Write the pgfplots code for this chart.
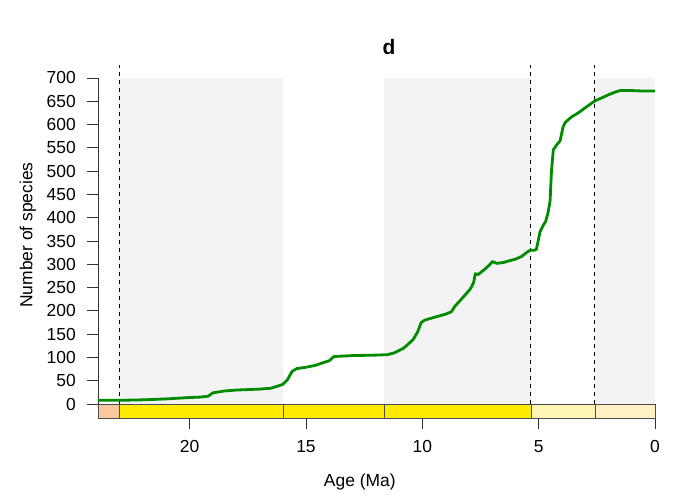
\documentclass[border=0pt]{standalone}
\usepackage{pgfplots}
\pgfplotsset{compat=1.18}
\usepackage{fontspec}
\setmainfont{Liberation Sans}
\definecolor{bandgray}{HTML}{F3F3F3}
\definecolor{oligo}{HTML}{FAC8A0}
\definecolor{mio}{HTML}{FFEB00}
\definecolor{plio}{HTML}{FFF5B5}
\definecolor{pleist}{HTML}{FFF0C6}
\definecolor{curvegreen}{HTML}{008B00}
\begin{document}
\begin{tikzpicture}[x=1bp,y=1bp]
\path[use as bounding box] (-98bp,-79bp) rectangle (579bp,418bp);
\begin{axis}[
  at={(0,0)}, anchor=south west,
  scale only axis,
  width=557bp, height=340bp,
  xmin=0, xmax=23.94, x dir=reverse,
  ymin=-30, ymax=700,
  clip=false,
  axis lines=left,
  axis line style={-, line width=0.8bp, draw=black!80},
  x axis line style={draw=none},
  tick align=outside,
  major tick length=11bp,
  tick style={line width=0.8bp, black!80},
  xtick={0,5,10,15,20},
  ytick={0,50,...,700},
  tick label style={font=\fontsize{17.5}{20}\selectfont},
  /pgf/number format/assume math mode=true,
  xticklabel style={inner sep=0pt, anchor=north, yshift=-11bp},
  yticklabel style={inner sep=0pt, anchor=east, xshift=-11bp},
  xlabel={Age (Ma)},
  ylabel={Number of species},
  every axis x label/.style={at={(rel axis cs:0.47,0)}, anchor=center, yshift=-64bp, font=\fontsize{17.5}{20}\selectfont},
  every axis y label/.style={at={(rel axis cs:0,0.538)}, anchor=center, xshift=-70bp, rotate=90, font=\fontsize{17.5}{20}\selectfont},
  title={\textbf{d}},
  every axis title/.style={at={(rel axis cs:0.5224,1)}, anchor=center, yshift=31bp, font=\fontsize{21}{24}\selectfont},
]
% grey bands
\fill[bandgray] (axis cs:23.03,0) rectangle (axis cs:15.97,700);
\fill[bandgray] (axis cs:11.63,0) rectangle (axis cs:5.333,700);
\fill[bandgray] (axis cs:2.58,0) rectangle (axis cs:0,700);
% time scale bar
\fill[oligo] (axis cs:23.94,-30) rectangle (axis cs:23.03,0);
\fill[mio] (axis cs:23.03,-30) rectangle (axis cs:5.333,0);
\fill[plio] (axis cs:5.333,-30) rectangle (axis cs:2.58,0);
\fill[pleist] (axis cs:2.58,-30) rectangle (axis cs:0,0);
\draw[black!70, line width=0.7bp] (axis cs:23.94,-30) rectangle (axis cs:0,0);
\pgfplotsinvokeforeach{23.03,15.97,11.63,5.333,2.58}{
  \draw[black!70, line width=0.7bp] (axis cs:#1,-30) -- (axis cs:#1,0);
}
% dashed boundaries
\pgfplotsinvokeforeach{23.03,5.333,2.58}{
  \draw[black, line width=1bp, dash pattern=on 4bp off 4bp] (axis cs:#1,0) -- (axis cs:#1,728);
}
\addplot[curvegreen, line width=2.8bp, no marks, line join=round] coordinates {
(23.94,8) (23.0,8) (22.0,9) (21.0,11) (20.0,14) (19.5,15) (19.2,17)
(19.0,24) (18.5,28) (18.0,30) (17.0,32) (16.5,34) (16.0,42) (15.8,52)
(15.6,70) (15.4,76) (15.0,79) (14.6,83) (14.25,89) (14.0,93) (13.8,102)
(13.0,104) (12.0,105) (11.5,106) (11.2,110) (10.8,120) (10.4,138) (10.2,155)
(10.05,175) (9.9,180) (9.5,186) (9.0,193) (8.75,198) (8.6,210) (8.45,218)
(8.2,232) (7.95,246) (7.8,260) (7.72,280) (7.6,278) (7.3,290) (7.09,300)
(6.99,306) (6.8,302) (6.5,304) (6.23,308) (6.0,311) (5.73,317) (5.5,326)
(5.37,330) (5.2,330) (5.1,332) (5.0,355) (4.94,370) (4.8,384) (4.7,392)
(4.6,410) (4.51,435) (4.45,500) (4.37,546) (4.2,558) (4.08,565) (3.95,595)
(3.85,605) (3.6,616) (3.3,625) (3.0,636) (2.58,651) (2.3,657) (2.0,664)
(1.7,670) (1.5,673) (1.0,673) (0.5,672) (0.0,672)
};
\end{axis}
\end{tikzpicture}
\end{document}
